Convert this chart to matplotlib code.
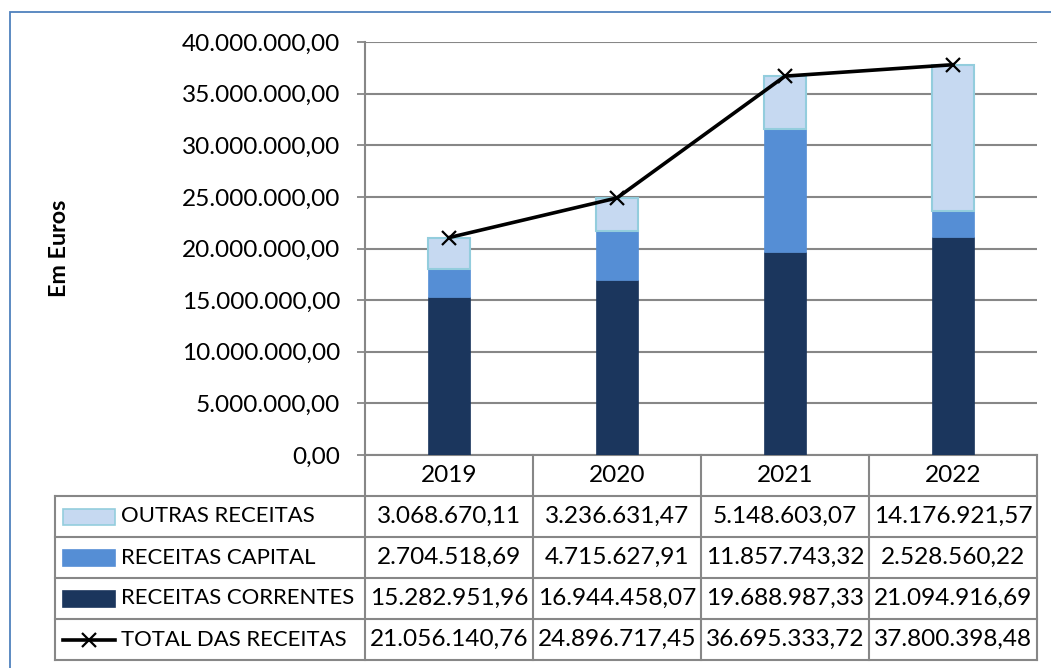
import matplotlib
matplotlib.use("Agg")
import matplotlib.pyplot as plt
from matplotlib.patches import Rectangle
from matplotlib.lines import Line2D
import matplotlib.transforms as mtransforms

years = ["2019", "2020", "2021", "2022"]
outras = [3068670.11, 3236631.47, 5148603.07, 14176921.57]
capital = [2704518.69, 4715627.91, 11857743.32, 2528560.22]
correntes = [15282951.96, 16944458.07, 19688987.33, 21094916.69]
total = [21056140.76, 24896717.45, 36695333.72, 37800398.48]
series_names = ["OUTRAS RECEITAS", "RECEITAS CAPITAL", "RECEITAS CORRENTES", "TOTAL DAS RECEITAS"]
yticks = [0, 5e6, 10e6, 15e6, 20e6, 25e6, 30e6, 35e6, 40e6]

C_DARK = "#1B365D"
C_MID = "#558ED5"
C_LIGHT = "#C6D9F1"
C_LIGHT_EDGE = "#93CDDD"
C_GRID = "#878787"
FONT = "Lato"
FS_NUM = 17.6
FS_TXT = 15.9

W, H = 1051, 668
fig = plt.figure(figsize=(W / 100, H / 100), dpi=100)


def fx(x):
    return x / W


def fy(y):
    return 1 - y / H


ax = fig.add_axes([fx(365), fy(455), fx(1037) - fx(365), fy(42) - fy(455)])


def fmt(v):
    s = f"{v:,.2f}"
    return s.replace(",", "X").replace(".", ",").replace("X", ".")


x = list(range(len(years)))
bw = 0.25
ax.bar(x, correntes, bw, color=C_DARK, edgecolor=C_DARK, linewidth=0.5, zorder=3)
b2 = [c for c in correntes]
ax.bar(x, capital, bw, bottom=b2, color=C_MID, edgecolor=C_MID, linewidth=0.5, zorder=3)
b3 = [c + k for c, k in zip(correntes, capital)]
ax.bar(x, outras, bw, bottom=b3, color=C_LIGHT, edgecolor=C_LIGHT_EDGE, linewidth=1.5, zorder=3)
ax.plot(x, total, color="black", lw=2.6, marker="x", markersize=10, mew=1.6, zorder=5)

ax.set_xlim(-0.5, len(years) - 0.5)
ax.set_ylim(0, 40e6)
ax.set_yticks(yticks)
ax.set_yticklabels([fmt(v) for v in yticks], fontsize=FS_NUM, family=FONT)
ax.set_xticks([])
ax.yaxis.grid(True, color=C_GRID, lw=1.5, zorder=0)
ax.tick_params(axis="y", length=6, width=1.3, color=C_GRID, pad=12)
for s in ["top", "right"]:
    ax.spines[s].set_visible(False)
for s in ["left", "bottom"]:
    ax.spines[s].set_color(C_GRID)
    ax.spines[s].set_linewidth(1.5)

fig.text(fx(60), fy(248), "Em Euros", rotation=90, ha="center", va="center",
         fontsize=16.8, fontweight="bold", family=FONT)

# data table below the axis
tr = mtransforms.blended_transform_factory(ax.transData, fig.transFigure)
row_edges = [455, 496, 537, 578, 619, 660]
tab_left = 55
lkw = dict(color=C_GRID, lw=1.5)

for i in range(len(years) + 1):
    xb = i - 0.5
    fig.add_artist(Line2D([xb, xb], [fy(row_edges[0]), fy(row_edges[-1])], transform=tr, **lkw))
fig.add_artist(Line2D([fx(tab_left), fx(tab_left)], [fy(row_edges[1]), fy(row_edges[-1])],
                      transform=fig.transFigure, **lkw))
x_right = ax.transAxes.transform((1, 0))[0] / W
for yv in row_edges[1:]:
    fig.add_artist(Line2D([fx(tab_left), x_right], [fy(yv), fy(yv)],
                          transform=fig.transFigure, **lkw))

for i, yr in enumerate(years):
    fig.text(i, fy((row_edges[0] + row_edges[1]) / 2), yr, transform=tr, ha="center",
             va="center", fontsize=FS_NUM, family=FONT)

rows = [outras, capital, correntes, total]
for r, (name, vals) in enumerate(zip(series_names, rows)):
    yc = fy((row_edges[r + 1] + row_edges[r + 2]) / 2)
    for i, v in enumerate(vals):
        fig.text(i, yc, fmt(v), transform=tr, ha="center", va="center", fontsize=FS_NUM, family=FONT)
    fig.text(fx(121), yc, name, ha="left", va="center", fontsize=FS_TXT, family=FONT)

sw_l, sw_r = 63, 115
keys = [(C_LIGHT, C_LIGHT_EDGE), (C_MID, C_MID), (C_DARK, C_DARK)]
for r, (fc, ec) in enumerate(keys):
    yc = (row_edges[r + 1] + row_edges[r + 2]) / 2
    fig.add_artist(Rectangle((fx(sw_l), fy(yc + 8)), fx(sw_r) - fx(sw_l), fy(yc - 8) - fy(yc + 8),
                             transform=fig.transFigure, facecolor=fc, edgecolor=ec, lw=1.2))
yc = (row_edges[4] + row_edges[5]) / 2
fig.add_artist(Line2D([fx(sw_l), fx(sw_r)], [fy(yc), fy(yc)], transform=fig.transFigure,
                      color="black", lw=2.6))
fig.add_artist(Line2D([fx((sw_l + sw_r) / 2)], [fy(yc)], transform=fig.transFigure,
                      color="black", marker="x", markersize=10, mew=1.6))

fig.add_artist(Rectangle((fx(9.5), fy(700)), fx(1100), fy(12) - fy(700), transform=fig.transFigure,
                         facecolor="none", edgecolor="#4F81BD", lw=1.3))

fig.savefig("out.png", dpi=100)
